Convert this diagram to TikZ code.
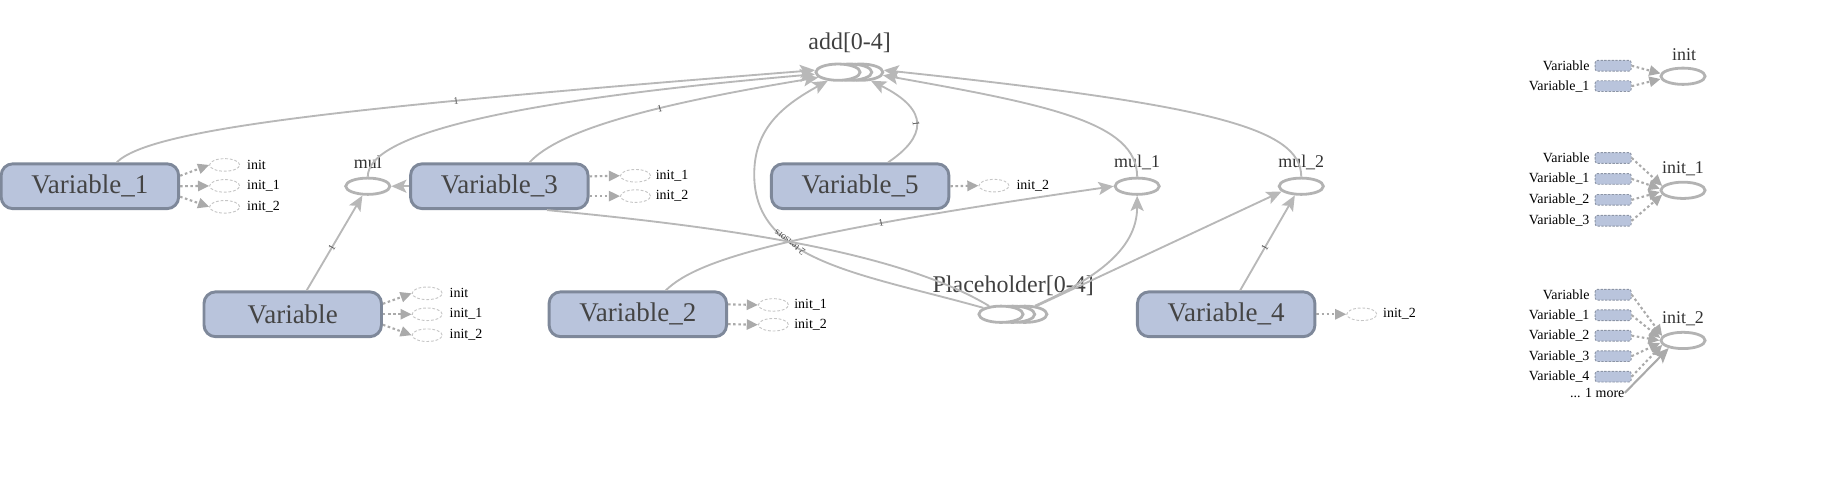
\documentclass[tikz,border=0pt]{standalone}
\usepackage{fontspec}
\setmainfont{Liberation Serif}
\usetikzlibrary{shapes.geometric,arrows.meta}

\definecolor{varfill}{HTML}{B9C4DC}
\definecolor{varline}{HTML}{7E889A}
\definecolor{vartext}{HTML}{444444}
\definecolor{opline}{HTML}{B3B3B3}
\definecolor{flowgray}{HTML}{B8B8B8}
\definecolor{initline}{HTML}{C6C6C6}
\definecolor{initflowgray}{HTML}{AAAAAA}
\definecolor{refline}{HTML}{8C95A6}

\tikzset{
  varbox/.style={draw=varline, fill=varfill, line width=1.25pt, rounded corners=5pt,
    minimum width=76.25pt, minimum height=19.25pt, inner sep=0pt, text=vartext,
    font=\fontsize{11.6}{12}\selectfont},
  opnode/.style={ellipse, draw=opline, fill=white, line width=1.2pt,
    minimum width=19pt, minimum height=7pt, inner sep=0pt},
  initnode/.style={ellipse, draw=initline, dash pattern=on 1.2pt off 0.8pt, line width=0.4pt,
    minimum width=12.9pt, minimum height=5.4pt, inner sep=0pt},
  refbox/.style={draw=refline, fill=varfill, dash pattern=on 1pt off 0.6pt, line width=0.4pt,
    rounded corners=1pt, minimum width=15.5pt, minimum height=4.6pt, inner sep=0pt},
  smalltext/.style={font=\fontsize{6}{7}\selectfont, inner sep=0pt},
  oplabel/.style={font=\fontsize{7.7}{8}\selectfont, text=black!80, inner sep=0pt},
  serieslabel/.style={font=\fontsize{10.3}{11}\selectfont, text=black!75, inner sep=0pt},
  flow/.style={draw=flowgray, line width=0.8pt, -{Stealth[length=6.5pt,width=5.6pt,inset=1.4pt]}},
  link/.style={draw=flowgray, line width=0.8pt},
  initflow/.style={draw=initflowgray, line width=0.9pt, dash pattern=on 1.1pt off 1.1pt,
    -{Triangle[length=4.8pt,width=4.4pt]}},
  shapelbl/.style={font=\fontsize{4.3}{4.3}\selectfont, text=black!70, sloped, inner sep=0pt},
}

\begin{document}
\begin{tikzpicture}[x=0.5pt, y=-0.5pt]
\useasboundingbox (0,0) rectangle (1568,424.4);

% variables
\node[varbox] (var1) at (77.25,160) {Variable\_1};
\node[varbox] (var3) at (429,160) {Variable\_3};
\node[varbox] (var5) at (739,160) {Variable\_5};
\node[varbox] (var) at (251.5,270) {Variable};
\node[varbox] (var2) at (548,270) {Variable\_2};
\node[varbox] (var4) at (1053.5,270) {Variable\_4};

% ops
\node[opnode] (mul) at (316,160) {};
\node[oplabel] (mullbl) at (316,139.5) {mul};
\node[opnode] (mul1) at (977,160) {};
\node[oplabel] (mul1lbl) at (977,139.5) {mul\_1};
\node[opnode] (mul2) at (1118,160) {};
\node[oplabel] (mul2lbl) at (1118,139.5) {mul\_2};

% series
\foreach \x/\n in {739.5/addc,730/addb,720/add}
    \node[opnode] (\n) at (\x,62) {};
\node[serieslabel] (addlbl) at (730,37) {add[0-4]};
\foreach \x/\n in {880.5/phc,870/phb,860/ph}
    \node[opnode] (\n) at (\x,270) {};
\node[serieslabel] (phlbl) at (870.5,245.5) {Placeholder[0-4]};

% init outputs of the variables
\foreach \t [count=\k] in {init,init\_1,init\_2} {
    \node[initnode] (v1i\k) at (193,{123.7+18*\k}) {};
    \node[smalltext, anchor=west] (v1t\k) at (212,{123.7+18*\k}) {\t};
    \draw[initflow] ([yshift={(2-\k)*4.5pt}]var1.east) -- (v1i\k.west);
    \node[initnode] (vi\k) at (367,{234+18*\k}) {};
    \node[smalltext, anchor=west] (vt\k) at (386,{234+18*\k}) {\t};
    \draw[initflow] ([yshift={(2-\k)*4.5pt}]var.east) -- (vi\k.west);
}
\foreach \t [count=\k] in {init\_1,init\_2} {
    \node[initnode] (v3i\k) at (546,{133.5+17.5*\k}) {};
    \node[smalltext, anchor=west] (v3t\k) at (563,{133.5+17.5*\k}) {\t};
    \draw[initflow] ([yshift={(1.5-\k)*8.5pt}]var3.east) -- (v3i\k.west);
    \node[initnode] (v2i\k) at (664.5,{245+17*\k}) {};
    \node[smalltext, anchor=west] (v2t\k) at (682,{245+17*\k}) {\t};
    \draw[initflow] ([yshift={(1.5-\k)*8.5pt}]var2.east) -- (v2i\k.west);
}
\node[initnode] (v5i) at (854,159.5) {};
\node[smalltext, anchor=west] (v5t) at (873,159.5) {init\_2};
\draw[initflow] (var5.east) -- (v5i.west);
\node[initnode] (v4i) at (1170,270) {};
\node[smalltext, anchor=west] (v4t) at (1188,270) {init\_2};
\draw[initflow] (var4.east) -- (v4i.west);

% edges into add
\draw[flow] ([xshift=11.5pt]var1.north) .. controls (130,110) and (300,92) .. (add.175)
    node[shapelbl, pos=0.69] (w1) {1};
\draw[flow] (mul.north) .. controls (316,118) and (420,88) .. (add.185);
\draw[flow] ([xshift=13pt]var3.north) .. controls (480,112) and (560,90) .. (add.195)
    node[shapelbl, pos=0.62] (w3) {1};
\draw[flow] ([xshift=12pt]var5.north) .. controls (795,118) and (800,95) .. (addc.-40)
    node[shapelbl, pos=0.5] (w5) {1};
\draw[flow] (mul1.north) .. controls (977,105) and (900,90) .. (addc.-8);
\draw[flow] (mul2.north) .. controls (1118,110) and (1040,90) .. (addc.5);
\draw[flow] (ph.160) .. controls (740,235) and (648,225) .. (648,150)
    node[shapelbl, pos=0.65, allow upside down] (wph) {2 tensors}
    .. controls (648,112) and (670,92) .. (add.-140);
\draw[link] ([xshift=20.5pt]var3.south) .. controls (620,195) and (770,215) .. (ph.145);

% edges into mul, mul_1, mul_2
\draw[flow] (var3.west) -- (mul.east);
\draw[flow] ([xshift=6pt]var.north) -- (mul.-120) node[shapelbl, pos=0.45] (wv) {1};
\draw[flow] ([xshift=12pt]var2.north) .. controls (600,222) and (680,200) .. (mul1.west)
    node[shapelbl, pos=0.7] (w2) {1};
\draw[flow] (phc.40) .. controls (940,240) and (977,215) .. (mul1.south);
\draw[flow] (phc.35) -- (mul2.195);
\draw[flow] ([xshift=6pt]var4.north) -- (mul2.-125) node[shapelbl, pos=0.45] (w4) {1};

% init summaries
\node[opnode] (init) at (1446,65.5) {};
\node[oplabel] (initlbl) at (1447,47) {init};
\foreach \t [count=\k, evaluate=\k as \a using 180+(\k-1.5)*14] in {Variable,Variable\_1} {
    \node[refbox] (ri\k) at (1386,{39+17.5*\k}) {};
    \node[smalltext, anchor=east] (rit\k) at (1366,{39+17.5*\k}) {\t};
    \draw[initflow] (ri\k.east) -- (init.\a);
}
\node[opnode] (init1) at (1446,163.5) {};
\node[oplabel] (init1lbl) at (1446,145) {init\_1};
\foreach \t [count=\k, evaluate=\k as \a using 180+(\k-2.5)*8] in {Variable,Variable\_1,Variable\_2,Variable\_3} {
    \node[refbox] (rj\k) at (1386,{117.7+18*\k}) {};
    \node[smalltext, anchor=east] (rjt\k) at (1366,{117.7+18*\k}) {\t};
    \draw[initflow] (rj\k.east) -- (init1.\a);
}
\node[opnode] (init2) at (1446,292.5) {};
\node[oplabel] (init2lbl) at (1446,274) {init\_2};
\foreach \t [count=\k, evaluate=\k as \a using 180+(\k-3)*6] in {Variable,Variable\_1,Variable\_2,Variable\_3,Variable\_4} {
    \node[refbox] (rk\k) at (1386,{235.6+17.6*\k}) {};
    \node[smalltext, anchor=east] (rkt\k) at (1366,{235.6+17.6*\k}) {\t};
    \draw[initflow] (rk\k.east) -- (init2.\a);
}
\node[smalltext, anchor=east] (more) at (1396,337.5) {... 1 more};
\draw[flow, line width=0.9pt, draw=initflowgray] (more.east) -- (init2.208);

\end{tikzpicture}
\end{document}
